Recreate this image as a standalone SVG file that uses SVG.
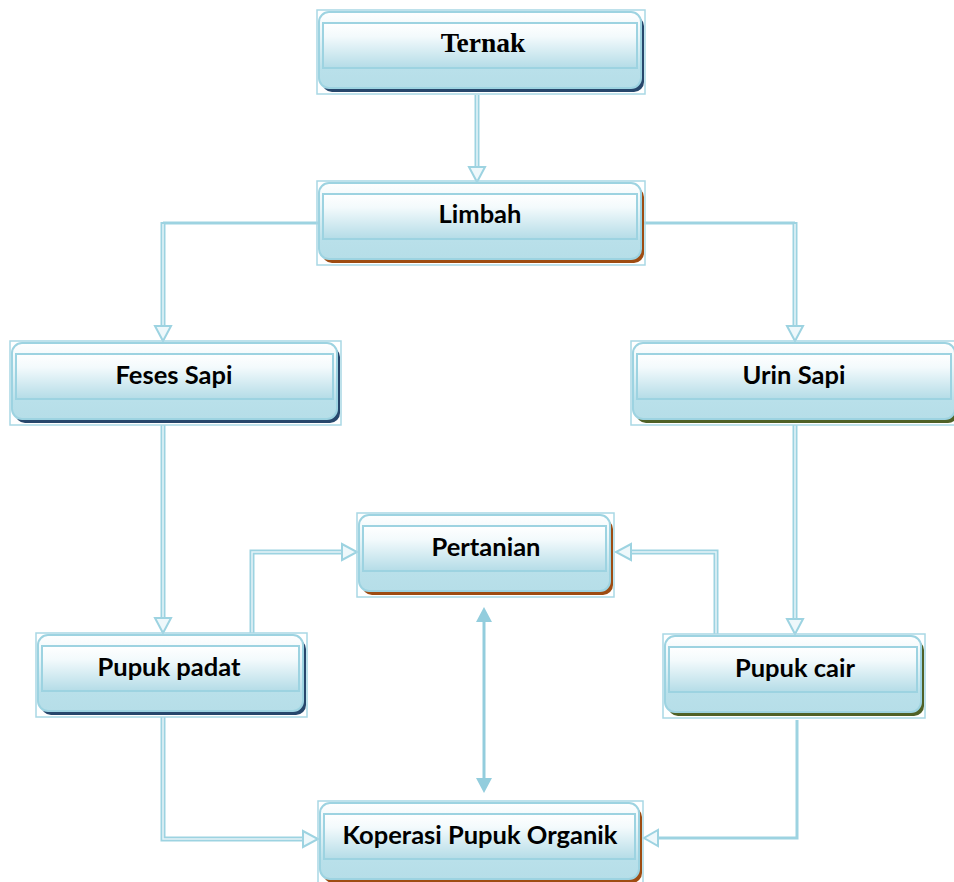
<svg xmlns="http://www.w3.org/2000/svg" width="954" height="882" viewBox="0 0 954 882">
<defs>
<linearGradient id="gBody" x1="0" y1="0" x2="0" y2="1">
<stop offset="0" stop-color="#ffffff"/>
<stop offset="0.3" stop-color="#eaf6f9"/>
<stop offset="0.75" stop-color="#b9e0ea"/>
<stop offset="1" stop-color="#b6dee8"/>
</linearGradient>
<linearGradient id="gInner" x1="0" y1="0" x2="0" y2="1">
<stop offset="0" stop-color="#ffffff"/>
<stop offset="0.3" stop-color="#f3fafc"/>
<stop offset="1" stop-color="#b4dce7"/>
</linearGradient>
<style>
.frame{fill:none;stroke:#a9d8e5;stroke-width:1.5}
.body{fill:url(#gBody);stroke:#9dd3e1;stroke-width:2}
.inner{fill:url(#gInner);stroke:#9dd3e1;stroke-width:2}
.navy{fill:#27476c}
.brown{fill:#9e4c12}
.olive{fill:#4f6127}
.lbl{font-family:Lato,"Liberation Sans",sans-serif;font-weight:bold;font-size:25.5px;fill:#000;text-anchor:middle}
.lblSerif{font-family:"Liberation Serif","Times New Roman",serif;font-weight:bold;font-size:27.5px;fill:#000;text-anchor:middle}
.shaft{fill:none;stroke:#9dd3e1;stroke-width:5;stroke-linejoin:miter}
.core{fill:none;stroke:#e6f4f8;stroke-width:1.5}
.thin{fill:none;stroke:#9dd3e1;stroke-width:3}
.head{fill:#eef8fb;stroke:#9dd3e1;stroke-width:2;stroke-linejoin:miter}
.solid{fill:#93cddd}
.bi{stroke:#93cddd;stroke-width:3;fill:none}
</style>
</defs>
<rect width="954" height="882" fill="#ffffff"/>

<g id="connectors">
<!-- Ternak -> Limbah -->
<path class="shaft" d="M477 95 V168"/>
<path class="core" d="M477 95 V168"/>
<polygon class="head" points="469,167 485,167 477,182"/>
<!-- Limbah -> Feses Sapi -->
<path class="thin" d="M318 223 H163"/>
<path class="shaft" d="M163 222 V327"/>
<path class="core" d="M163 224 V327"/>
<polygon class="head" points="155,326 171,326 163,341"/>
<!-- Limbah -> Urin Sapi -->
<path class="thin" d="M644 223 H795"/>
<path class="shaft" d="M795 222 V327"/>
<path class="core" d="M795 224 V327"/>
<polygon class="head" points="787,326 803,326 795,341"/>
<!-- Feses Sapi -> Pupuk padat -->
<path class="shaft" d="M163 425 V619"/>
<path class="core" d="M163 425 V619"/>
<polygon class="head" points="155,618 171,618 163,633"/>
<!-- Urin Sapi -> Pupuk cair -->
<path class="shaft" d="M795 425 V620"/>
<path class="core" d="M795 425 V620"/>
<polygon class="head" points="787,619 803,619 795,634"/>
<!-- Pupuk padat -> Pertanian -->
<path class="shaft" d="M252 633 V552 H343"/>
<path class="core" d="M252 633 V552 H343"/>
<polygon class="head" points="342,544 342,560 357,552"/>
<!-- Pupuk cair -> Pertanian -->
<path class="shaft" d="M716 634 V552 H630"/>
<path class="core" d="M716 634 V552 H630"/>
<polygon class="head" points="631,544 631,560 616,552"/>
<!-- Pupuk padat -> Koperasi -->
<path class="shaft" d="M163 717 V839 H304"/>
<path class="core" d="M163 717 V839 H304"/>
<polygon class="head" points="303,831 303,847 318,839"/>
<!-- Pupuk cair -> Koperasi -->
<path class="thin" d="M797 720 V838 H657"/>
<polygon class="head" points="658,830 658,846 644,838"/>
<!-- Pertanian <-> Koperasi -->
<path class="bi" d="M484 620 V780"/>
<polygon class="solid" points="476,622 492,622 484,607"/>
<polygon class="solid" points="476,778 492,778 484,793"/>
</g>

<g id="ternak">
<rect class="frame" x="317" y="10" width="328" height="84"/>
<rect class="navy" x="322" y="16" width="322" height="76" rx="10"/>
<rect class="body" x="319" y="12" width="322" height="76" rx="10"/>
<rect class="inner" x="323" y="23" width="314" height="45"/>
<text class="lblSerif" x="483" y="52">Ternak</text>
</g>

<g id="limbah">
<rect class="frame" x="317" y="181" width="328" height="84"/>
<rect class="brown" x="322" y="187" width="322" height="76" rx="10"/>
<rect class="body" x="319" y="183" width="322" height="76" rx="10"/>
<rect class="inner" x="323" y="194" width="314" height="45"/>
<text class="lbl" x="480" y="223">Limbah</text>
</g>

<g id="feses-sapi">
<rect class="frame" x="10" y="341" width="331" height="84"/>
<rect class="navy" x="15" y="347" width="325" height="76" rx="10"/>
<rect class="body" x="12" y="343" width="325" height="76" rx="10"/>
<rect class="inner" x="16" y="354" width="317" height="45"/>
<text class="lbl" x="174" y="384">Feses Sapi</text>
</g>

<g id="urin-sapi">
<rect class="frame" x="631" y="341" width="328" height="84"/>
<rect class="olive" x="636" y="347" width="322" height="76" rx="10"/>
<rect class="body" x="633" y="343" width="322" height="76" rx="10"/>
<rect class="inner" x="637" y="354" width="314" height="45"/>
<text class="lbl" x="794" y="384">Urin Sapi</text>
</g>

<g id="pertanian">
<rect class="frame" x="357" y="513" width="257" height="84"/>
<rect class="brown" x="362" y="519" width="251" height="76" rx="10"/>
<rect class="body" x="359" y="515" width="251" height="76" rx="10"/>
<rect class="inner" x="363" y="526" width="243" height="45"/>
<text class="lbl" x="486" y="556">Pertanian</text>
</g>

<g id="pupuk-padat">
<rect class="frame" x="36" y="633" width="271" height="84"/>
<rect class="navy" x="41" y="639" width="265" height="76" rx="10"/>
<rect class="body" x="38" y="635" width="265" height="76" rx="10"/>
<rect class="inner" x="42" y="646" width="257" height="45"/>
<text class="lbl" x="169" y="676">Pupuk padat</text>
</g>

<g id="pupuk-cair">
<rect class="frame" x="663" y="634" width="262" height="84"/>
<rect class="olive" x="668" y="640" width="256" height="76" rx="10"/>
<rect class="body" x="665" y="636" width="256" height="76" rx="10"/>
<rect class="inner" x="669" y="647" width="248" height="45"/>
<text class="lbl" x="795" y="677">Pupuk cair</text>
</g>

<g id="koperasi-pupuk-organik">
<rect class="frame" x="318" y="801" width="325" height="84"/>
<rect class="brown" x="323" y="807" width="319" height="76" rx="10"/>
<rect class="body" x="320" y="803" width="319" height="76" rx="10"/>
<rect class="inner" x="324" y="814" width="311" height="45"/>
<text class="lbl" x="480" y="844">Koperasi Pupuk Organik</text>
</g>
</svg>
